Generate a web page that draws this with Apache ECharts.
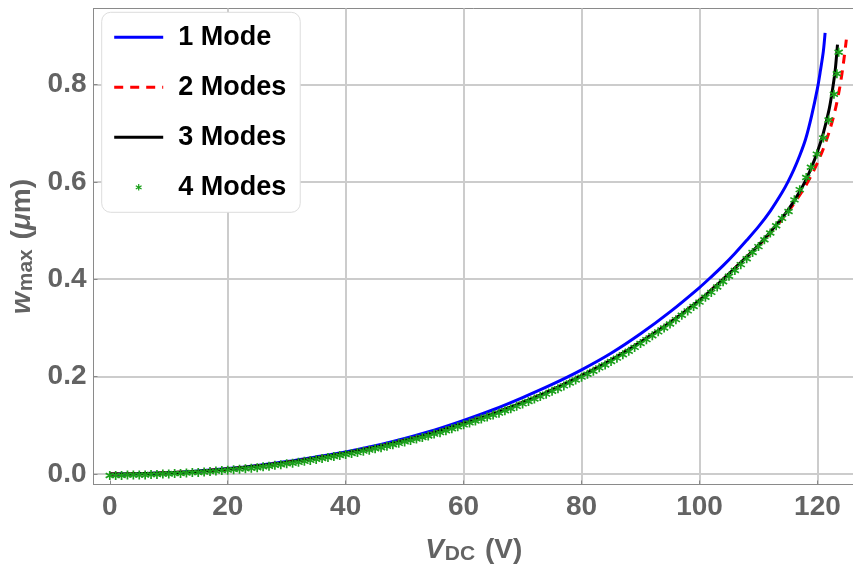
<!DOCTYPE html>
<html>
<head>
<meta charset="utf-8">
<script src="https://cdn.jsdelivr.net/npm/echarts@6/dist/echarts.min.js"></script>
<style>
  html, body { margin: 0; padding: 0; background: #ffffff; }
  #chart { width: 853px; height: 570px; }
</style>
</head>
<body>
<div id="chart"></div>
<script>
// Maximum deflection w_max (µm) versus DC voltage V_DC (V) for 1-4 mode approximations

const oneModeV = [0, 5, 10, 15, 20, 25, 30, 35, 40, 45, 50, 55, 60, 65, 70, 75, 80, 85, 90, 95, 100, 102, 104, 106, 108, 110, 112, 114, 115, 116, 117, 118, 119, 120, 120.5, 121, 121.3];
const oneModeW = [0, 0.0007, 0.0028, 0.0063, 0.0112, 0.0176, 0.0256, 0.0352, 0.0455, 0.058, 0.073, 0.090, 0.110, 0.132, 0.157, 0.184, 0.214, 0.248, 0.288, 0.333, 0.383, 0.405, 0.428, 0.453, 0.480, 0.508, 0.540, 0.578, 0.600, 0.625, 0.654, 0.688, 0.735, 0.792, 0.828, 0.868, 0.906];

const twoModesV = [0, 5, 10, 15, 20, 25, 30, 35, 40, 45, 50, 55, 60, 65, 70, 75, 80, 85, 90, 95, 100, 102, 104, 106, 108, 110, 112, 114, 116, 118, 119, 120, 121, 122, 123, 123.8, 124.4, 124.9];
const twoModesW = [0, 0.0006, 0.0026, 0.0059, 0.0105, 0.0165, 0.024, 0.033, 0.043, 0.055, 0.069, 0.085, 0.104, 0.124, 0.147, 0.173, 0.202, 0.234, 0.271, 0.311, 0.357, 0.378, 0.400, 0.423, 0.446, 0.469, 0.495, 0.523, 0.555, 0.592, 0.614, 0.639, 0.668, 0.703, 0.747, 0.795, 0.843, 0.892];

const threeModesV = [0, 5, 10, 15, 20, 25, 30, 35, 40, 45, 50, 55, 60, 65, 70, 75, 80, 85, 90, 95, 100, 102, 104, 106, 108, 110, 112, 114, 115, 116, 117, 118, 119, 120, 121, 122, 122.5, 123, 123.4];
const threeModesW = [0, 0.0006, 0.0026, 0.0059, 0.0105, 0.0165, 0.024, 0.033, 0.043, 0.055, 0.069, 0.085, 0.104, 0.124, 0.147, 0.173, 0.202, 0.234, 0.271, 0.311, 0.357, 0.378, 0.400, 0.423, 0.446, 0.470, 0.497, 0.526, 0.542, 0.560, 0.580, 0.603, 0.630, 0.662, 0.700, 0.750, 0.785, 0.828, 0.882];

const fourModesV = [
  0, 1, 2, 3, 4, 5, 6, 7, 8, 9, 10, 11, 12, 13, 14, 15, 16, 17, 18, 19,
  20, 21, 22, 23, 24, 25, 26, 27, 28, 29, 30, 31, 32, 33, 34, 35, 36, 37, 38, 39,
  40, 41, 42, 43, 44, 45, 46, 47, 48, 49, 50, 51, 52, 53, 54, 55, 56, 57, 58, 59,
  60, 61, 62, 63, 64, 65, 66, 67, 68, 69, 70, 71, 72, 73, 74, 75, 76, 77, 78, 79,
  80, 81, 82, 83, 84, 85, 86, 87, 88, 89, 90, 91, 92, 93, 94, 95, 96, 97, 98, 99,
  100, 101, 102, 103, 104, 105, 106, 107, 108, 109, 110, 111, 112, 113, 114,
  115.1, 116.1, 117.0, 118.1, 118.9, 119.9, 121.0, 121.9, 122.8, 123.3, 123.6
];
const fourModesW = [
  -0.003, -0.003, -0.003, -0.002, -0.002, -0.002, -0.002, -0.001, -0.001, 0.000, 0.000, 0.001, 0.001, 0.002, 0.003, 0.003, 0.004, 0.005, 0.006, 0.007,
  0.008, 0.009, 0.010, 0.011, 0.012, 0.013, 0.015, 0.016, 0.018, 0.019, 0.021, 0.022, 0.024, 0.026, 0.028, 0.030, 0.032, 0.034, 0.036, 0.038,
  0.040, 0.042, 0.044, 0.047, 0.049, 0.052, 0.054, 0.057, 0.060, 0.063, 0.066, 0.069, 0.072, 0.075, 0.078, 0.082, 0.085, 0.089, 0.093, 0.097,
  0.101, 0.105, 0.109, 0.113, 0.117, 0.121, 0.125, 0.130, 0.134, 0.139, 0.144, 0.149, 0.154, 0.159, 0.164, 0.170, 0.175, 0.181, 0.187, 0.193,
  0.199, 0.205, 0.211, 0.218, 0.224, 0.231, 0.238, 0.245, 0.252, 0.260, 0.268, 0.276, 0.284, 0.292, 0.300, 0.308, 0.317, 0.326, 0.335, 0.344,
  0.353, 0.363, 0.373, 0.384, 0.395, 0.406, 0.418, 0.430, 0.442, 0.455, 0.467, 0.481, 0.495, 0.510, 0.525,
  0.539, 0.563, 0.584, 0.609, 0.630, 0.657, 0.690, 0.727, 0.780, 0.822, 0.866
];

const xTickLabels = ['0', '20', '40', '60', '80', '100', '120'];
const yTickLabels = ['0.0', '0.2', '0.4', '0.6', '0.8'];

function pairs(xs, ys) {
  return xs.map((x, i) => [x, ys[i]]);
}

// six-armed asterisk marker (three crossed bars)
const asterisk = 'path://M-1.8,-10L1.8,-10L1.8,10L-1.8,10Z' +
  'M7.76,-6.56L9.56,-3.44L-7.76,6.56L-9.56,3.44Z' +
  'M-9.56,-3.44L-7.76,-6.56L9.56,3.44L7.76,6.56Z';

const FONT = '"Liberation Sans", Arial, sans-serif';
const GRAY = '#636363';
const GREEN = '#1ba01b';

const chart = echarts.init(document.getElementById('chart'), null, { renderer: 'canvas' });

chart.setOption({
  animation: false,
  backgroundColor: '#ffffff',
  grid: {
    left: 93.5, top: 8.5, right: -1, bottom: 85.5,
    containLabel: false,
    outerBoundsMode: 'none',
    show: true,
    borderColor: '#8a8a8a',
    borderWidth: 1,
    backgroundColor: 'transparent'
  },
  legend: {
    orient: 'vertical',
    left: 101.7,
    top: 12.3,
    padding: [10, 14, 10, 11],
    itemWidth: 49,
    itemHeight: 8,
    itemGap: 20,
    backgroundColor: '#ffffff',
    borderColor: '#dddddd',
    borderWidth: 1,
    borderRadius: 9,
    textStyle: {
      fontFamily: FONT,
      fontSize: 27,
      fontWeight: 'bold',
      color: '#000000',
      lineHeight: 30,
      padding: [0, 0, 0, 10]
    },
    data: [
      { name: '1 Mode', itemStyle: { opacity: 0 }, lineStyle: { width: 3 } },
      { name: '2 Modes', itemStyle: { opacity: 0 }, lineStyle: { width: 3 } },
      { name: '3 Modes', itemStyle: { opacity: 0 }, lineStyle: { width: 3 } },
      { name: '4 Modes', lineStyle: { width: 0, opacity: 0 } }
    ]
  },
  xAxis: {
    type: 'value',
    min: -2.76,
    max: 126.2,
    splitNumber: 6,
    minInterval: 20,
    maxInterval: 20,
    name: '{i|V}{sub|DC}{n| (V)}',
    nameLocation: 'middle',
    nameGap: 52,
    nameTextStyle: {
      rich: {
        i: { fontFamily: FONT, fontSize: 28, fontWeight: 'bold', fontStyle: 'italic', color: GRAY },
        sub: { fontFamily: FONT, fontSize: 21, fontWeight: 'bold', color: GRAY, verticalAlign: 'bottom', lineHeight: 22, padding: [0, 2, 0, 1] },
        n: { fontFamily: FONT, fontSize: 28, fontWeight: 'bold', color: GRAY }
      }
    },
    axisLine: { show: true, onZero: false, lineStyle: { color: '#8a8a8a', width: 1 } },
    axisTick: { show: true, inside: true, length: 4, lineStyle: { color: '#8a8a8a' } },
    axisLabel: {
      show: true,
      margin: 9,
      showMinLabel: false,
      showMaxLabel: false,
      fontFamily: FONT,
      fontSize: 28,
      fontWeight: 'bold',
      color: GRAY,
      formatter: v => {
        const s = String(Math.round(v));
        return xTickLabels.includes(s) ? s : '';
      }
    },
    splitLine: {
      show: true,
      showMinLine: false,
      showMaxLine: false,
      lineStyle: { color: ['rgba(0,0,0,0)', '#cccccc', '#cccccc', '#cccccc', '#cccccc', '#cccccc', '#cccccc'], width: 2 }
    }
  },
  yAxis: {
    type: 'value',
    min: -0.0215,
    max: 0.956,
    splitNumber: 5,
    minInterval: 0.2,
    maxInterval: 0.2,
    name: '{i|w}{sub|max}{n| (}{ni|μ}{n|m)}',
    nameLocation: 'middle',
    nameGap: 50,
    nameTextStyle: {
      rich: {
        i: { fontFamily: FONT, fontSize: 28, fontWeight: 'bold', fontStyle: 'italic', color: GRAY },
        sub: { fontFamily: FONT, fontSize: 21, fontWeight: 'bold', color: GRAY, verticalAlign: 'bottom', lineHeight: 22, padding: [0, 2, 0, 1] },
        n: { fontFamily: FONT, fontSize: 28, fontWeight: 'bold', color: GRAY },
        ni: { fontFamily: FONT, fontSize: 28, fontWeight: 'bold', fontStyle: 'italic', color: GRAY }
      }
    },
    axisLine: { show: true, onZero: false, lineStyle: { color: '#8a8a8a', width: 1 } },
    axisTick: { show: true, inside: true, length: 4, lineStyle: { color: '#8a8a8a' } },
    axisLabel: {
      show: true,
      margin: 7,
      showMinLabel: false,
      showMaxLabel: false,
      fontFamily: FONT,
      fontSize: 28,
      fontWeight: 'bold',
      color: GRAY,
      formatter: v => {
        const s = (Math.round(v * 10) / 10).toFixed(1);
        return yTickLabels.includes(s) ? s : '';
      }
    },
    splitLine: {
      show: true,
      showMinLine: false,
      showMaxLine: false,
      lineStyle: { color: '#cccccc', width: 2 }
    }
  },
  series: [
    {
      name: '1 Mode',
      type: 'line',
      data: pairs(oneModeV, oneModeW),
      symbol: 'none',
      smooth: 0.3,
      color: '#0000ff',
      lineStyle: { color: '#0000ff', width: 3 },
      z: 2
    },
    {
      name: '2 Modes',
      type: 'line',
      data: pairs(twoModesV, twoModesW),
      symbol: 'none',
      smooth: 0.3,
      color: '#ff0000',
      lineStyle: { color: '#ff0000', width: 3, type: [9, 7] },
      z: 3
    },
    {
      name: '3 Modes',
      type: 'line',
      data: pairs(threeModesV, threeModesW),
      symbol: 'none',
      smooth: 0.3,
      color: '#000000',
      lineStyle: { color: '#000000', width: 3 },
      z: 4
    },
    {
      name: '4 Modes',
      type: 'line',
      data: pairs(fourModesV, fourModesW),
      symbol: asterisk,
      symbolSize: 9,
      showSymbol: true,
      showAllSymbol: true,
      color: GREEN,
      itemStyle: { color: GREEN },
      lineStyle: { width: 0, opacity: 0 },
      z: 5
    }
  ]
});
</script>
</body>
</html>
